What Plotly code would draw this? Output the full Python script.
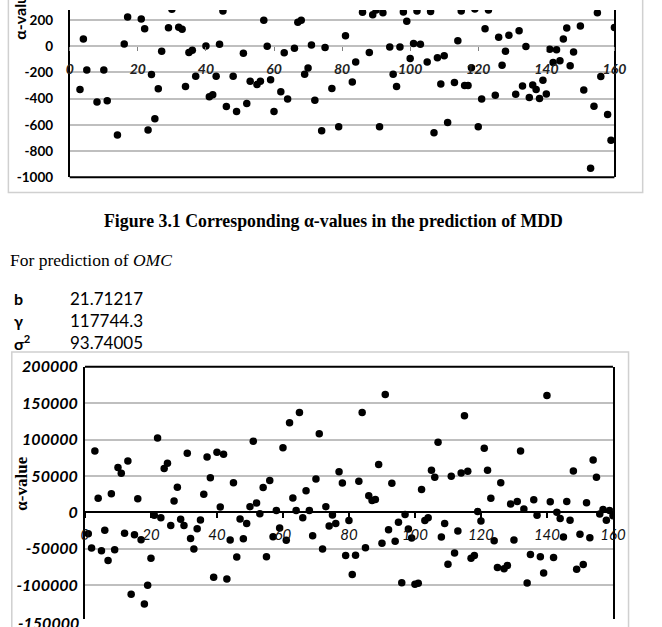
import plotly.graph_objects as go

W, H = 662, 627

# ---- Figure 3.1 : alpha-values, prediction of MDD (only the visible part of the scan) ----
mdd_index = [3, 4, 5, 8, 10, 11, 14, 16, 17, 21, 22, 23, 24, 25, 26, 27, 29, 30, 32, 33,
             34, 35, 36, 37, 40, 41, 42, 43, 44, 45, 46, 48, 49, 51, 52, 53, 55, 56, 57, 58,
             59, 60, 62, 63, 64, 66, 67, 68, 69, 70, 71, 72, 74, 75, 77, 79, 81, 83, 84, 86,
             88, 89, 90, 91, 92, 94, 95, 96, 97, 98, 99, 100, 101, 102, 103, 105, 106, 107, 108, 109,
             110, 111, 113, 114, 115, 116, 117, 118, 119, 120, 121, 122, 123, 125, 126, 127, 128, 129, 131, 132,
             133, 134, 135, 136, 137, 138, 139, 140, 141, 142, 143, 144, 145, 146, 147, 148, 150, 151, 153, 154,
             155, 156, 158, 159, 160]
mdd_alpha = [-329, 55, -181, -426, -181, -416, -676, 17, 223, 208, 134, -639, -215, -552, -324, -37, 141, 282, 146, 129,
             -307, -47, -30, -228, 3, -386, -369, -228, 15, 270, -460, -228, -497, -54, -436, -267, -292, -267, 198, 0,
             -255, -497, -346, -49, -403, -15, 183, 198, -213, -166, 10, -411, -644, -10, -322, -614, 80, -272, -119, 260,
             -47, 240, 277, -614, 255, -5, -213, -307, -5, 262, 191, -94, 22, 270, 15, -119, 265, -659, -87, -287,
             -72, -582, -277, 43, 270, -300, -300, -163, 285, -614, -403, 134, 277, -374, 69, -144, -37, 84, -366, 119,
             -304, -2, -391, -295, -329, -399, -260, -364, -22, -124, -27, -111, 55, 139, -149, -44, 154, -334, -930, -458,
             255, -230, -520, -716, 144]
mdd_yticks = [-1000, -800, -600, -400, -200, 0, 200]
mdd_ytick_text = ["-1000", "-800", "-600", "-400", "-200", "0", "200"]

# ---- alpha-values, prediction of OMC ----
omc_index = list(range(1, 161))
omc_alpha = [-29300, -48900, 84400, 19600, -52400, -24400, -65800, 25800, -51100, 61800,
             53800, -28400, 70700, -112400, -30700, 18700, -37300, -125800, -100000, -62700,
             -4000, 102200, -7100, 60400, 67500, -17800, 15600, 34700, -9300, -17800,
             81300, -35600, -50200, -22200, -10200, 24900, 76000, 47600, -88900, 82700,
             7600, 80000, -91500, -37800, 40900, -61300, -8900, -36000, -15100, 8000,
             97800, 12900, -1800, 34200, -60900, 44000, -33300, 2700, -21300, 88900,
             -38200, 123100, 20000, 2700, 137300, -7100, 29800, 2700, -32000, 45800,
             108000, -50200, 8000, -18700, -3600, -15100, 56000, 40400, -59100, -11100,
             -85300, -58700, 42700, 137300, -48400, 23100, 16400, 17800, 65800, -42200,
             161800, -23600, 40000, -39600, -13300, -96400, -2700, -22700, -35100, -98700,
             -97300, 31600, -11100, -7100, 57800, 48400, 96400, -33800, -15100, -71100,
             49800, -55500, -25300, 54200, 132900, 56400, -62700, -59100, 1300, -11600,
             88000, 57800, 19600, -38700, -75600, 40900, -77300, -72900, 11600, -37800,
             15100, 84400, 4900, -96900, -57800, 17300, -4000, -60900, -83100, 160400,
             14700, -61800, 400, -8400, -33800, 15100, -10700, 56900, -77800, -29800,
             -71600, 13300, -34700, 72000, 48400, -2200, 4000, -10700, 2700, -4400]
omc_yticks = [-100000, -50000, 0, 50000, 100000, 150000, 200000]
omc_ytick_text = ["-100000", "-50000", "0", "50000", "100000", "150000", "200000"]

x_ticks = [0, 20, 40, 60, 80, 100, 120, 140, 160]

# parameter table
param_names = ["b", "γ", "σ<sup>2</sup>"]
param_values = ["21.71217", "117744.3", "93.74005"]


def px(x):
    return x / W


def py(y):
    return 1 - y / H


GRID = "#bfbfbf"
SANS = "Lato"
SERIF = "Liberation Serif"

fig = go.Figure()
fig.add_trace(go.Scatter(x=mdd_index, y=mdd_alpha, mode="markers",
                         marker=dict(color="black", size=7.5), xaxis="x", yaxis="y",
                         showlegend=False))
fig.add_trace(go.Scatter(x=omc_index, y=omc_alpha, mode="markers",
                         marker=dict(color="black", size=7.5), xaxis="x2", yaxis="y2",
                         showlegend=False))

# geometry (pixels) measured on the reference
top_l, top_r, top_zero, top_bottom = 67.5, 626.5, 37.35, 172.3
bot_l, bot_r, bot_top, bot_zero = 83.1, 625.0, 367.3, 517.3

top_per_unit = (top_bottom - top_zero) / 1000.0
top_max = top_zero / top_per_unit
bot_per_unit = (bot_zero - bot_top) / 200000.0
bot_min = -(H - bot_zero) / bot_per_unit

fig.update_layout(
    width=W, height=H,
    margin=dict(l=0, r=0, t=0, b=0),
    paper_bgcolor="white", plot_bgcolor="white",
    font=dict(family=SANS, color="black"),
    xaxis=dict(domain=[px(top_l), px(top_r)], range=[0, 160], anchor="free",
               position=py(top_zero), tickvals=x_ticks, ticks="outside", ticklen=4,
               tickcolor="#808080", tickwidth=1, showgrid=False, zeroline=False,
               showline=False, ticklabelstandoff=6,
               tickfont=dict(family=SANS, size=14, color="#222", weight="bold", style="italic")),
    yaxis=dict(domain=[py(top_bottom), 1], range=[-1000, top_max], anchor="x",
               tickvals=mdd_yticks, ticktext=mdd_ytick_text, showgrid=True,
               gridcolor=GRID, gridwidth=1.5, zeroline=True, zerolinecolor=GRID,
               zerolinewidth=1.5, showline=True, linecolor="black", linewidth=2,
               mirror=True, ticks="", ticklabelstandoff=12,
               tickfont=dict(family=SANS, size=13.5, color="black", weight="bold")),
    xaxis2=dict(domain=[px(bot_l), px(bot_r)], range=[0, 160], anchor="free",
                position=py(bot_zero), tickvals=x_ticks, ticks="outside", ticklen=5,
                tickcolor="black", tickwidth=1.5, showgrid=False, zeroline=False,
                showline=True, linecolor="black", linewidth=2, ticklabelstandoff=4,
                tickfont=dict(family=SANS, size=15, color="#111", style="italic")),
    yaxis2=dict(domain=[0, py(bot_top)], range=[bot_min, 200000], anchor="x2",
                tickvals=omc_yticks, ticktext=omc_ytick_text, showgrid=True,
                gridcolor=GRID, gridwidth=1.5, zeroline=False, showline=True,
                linecolor="black", linewidth=2, mirror=True, ticks="",
                ticklabelstandoff=2,
                tickfont=dict(family=SANS, size=16, color="black", weight="bold", style="italic")),
)

shapes = []
# outer light frames of the two embedded charts
shapes.append(dict(type="rect", xref="paper", yref="paper", x0=px(4.5), x1=px(655.5),
                   y0=py(188), y1=1.2, line=dict(color="#d0d0d0", width=1.5)))
shapes.append(dict(type="rect", xref="paper", yref="paper", x0=px(8), x1=px(641),
                   y0=-0.2, y1=py(352), line=dict(color="#d0d0d0", width=1.5)))
# bottom border of the top plot area, top border of the lower plot area
shapes.append(dict(type="line", xref="paper", yref="paper", x0=px(top_l), x1=px(top_r),
                   y0=py(top_bottom), y1=py(top_bottom), line=dict(color="black", width=2)))
shapes.append(dict(type="line", xref="paper", yref="paper", x0=px(bot_l), x1=px(bot_r),
                   y0=py(bot_top), y1=py(bot_top), line=dict(color="black", width=2)))
fig.update_layout(shapes=shapes)

ann = []
ann.append(dict(text="α-values", xref="paper", yref="paper", x=px(15), y=py(33),
                xanchor="center", yanchor="bottom", textangle=-90, showarrow=False,
                font=dict(family=SANS, size=16, color="black", weight="bold")))
ann.append(dict(text="α-value", xref="paper", yref="paper", x=px(18), y=py(518),
                xanchor="center", yanchor="bottom", textangle=-90, showarrow=False,
                font=dict(family=SERIF, size=17, color="black", weight="bold")))
ann.append(dict(text="-150000", xref="paper", yref="paper", x=px(79), y=py(bot_zero + 3 * 37.5 + 1),
                xanchor="right", yanchor="middle", showarrow=False,
                font=dict(family=SANS, size=16, color="black", weight="bold", style="italic")))
ann.append(dict(text="Figure 3.1 Corresponding α-values in the prediction of MDD",
                xref="paper", yref="paper", x=px(338), y=py(217), xanchor="center",
                yanchor="middle", showarrow=False,
                font=dict(family=SERIF, size=17.8, color="black", weight="bold")))
ann.append(dict(text="For prediction of <i>OMC</i>", xref="paper", yref="paper",
                x=px(4), y=py(257), xanchor="left", yanchor="middle", showarrow=False,
                font=dict(family=SERIF, size=17.5, color="black")))
row_y = [297, 319.5, 342]
for name, val, yy in zip(param_names, param_values, row_y):
    ann.append(dict(text="<b>" + name + "</b>", xref="paper", yref="paper", x=px(8),
                    y=py(yy), xanchor="left", yanchor="middle", showarrow=False,
                    font=dict(family=SANS, size=16, color="black")))
    ann.append(dict(text=val, xref="paper", yref="paper", x=px(66), y=py(yy),
                    xanchor="left", yanchor="middle", showarrow=False,
                    font=dict(family=SANS, size=17, color="black")))
fig.update_layout(annotations=ann)

fig.write_html("out.html")
